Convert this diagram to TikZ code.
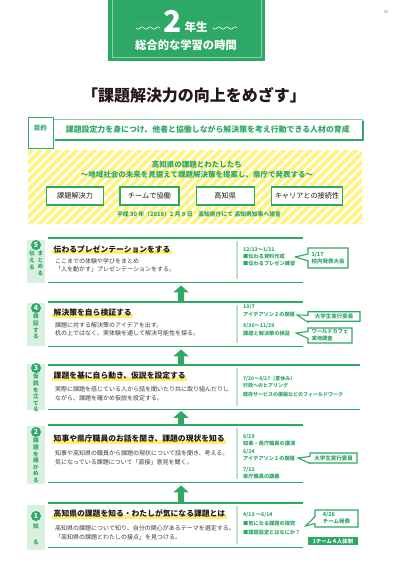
\documentclass[tikz,border=0pt]{standalone}
\usepackage{fontspec}
\setmainfont{Noto Sans CJK JP}
\usetikzlibrary{positioning,arrows.meta,shapes.callouts}

\definecolor{kgreen}{HTML}{2EA865}
\definecolor{kpale}{HTML}{D9EFDF}
\definecolor{kline}{HTML}{BDE2C8}
\definecolor{kyellow}{HTML}{FFF27E}
\definecolor{kmark}{HTML}{FFEF6B}
\definecolor{kdark}{HTML}{231815}
\definecolor{kbody}{HTML}{3E3A39}

\begin{document}
\begin{tikzpicture}[
    x=1pt, y=-1pt,
    every node/.style={inner sep=0pt},
    stage/.style={anchor=north west, minimum width=255pt, minimum height=44pt},
    tagbox/.style={fill=kpale, minimum width=18pt, anchor=north west},
    numdot/.style={circle, fill=kgreen, text=white, minimum size=10pt, font=\bfseries\fontsize{7}{7}\selectfont},
    tagtext/.style={text=kgreen, anchor=north, align=center, font=\bfseries\fontsize{5.6}{6.6}\selectfont},
    head/.style={anchor=west, inner xsep=1.5pt, inner ysep=1.5pt, text=kdark,
      font=\bfseries\fontsize{7.8}{9}\selectfont,
      path picture={\fill[kmark] ([yshift=-0.5pt]path picture bounding box.west) rectangle (path picture bounding box.south east);}},
    body/.style={anchor=west, align=left, text=kbody, font=\fontsize{6}{8.5}\selectfont},
    sched/.style={anchor=west, align=left, text=kgreen, font=\bfseries\fontsize{5.2}{7}\selectfont},
    callbox/.style={rectangle callout, draw=kgreen, line width=1.1pt, fill=white, callout pointer width=7pt,
      text=kgreen, align=left, font=\bfseries\fontsize{5.5}{7}\selectfont},
    kwbox/.style={draw=kgreen, line width=1.3pt, fill=white, minimum height=18pt, text=kdark,
      font=\fontsize{7.2}{9}\selectfont},
    uparr/.style={kgreen, line width=6pt, -{Triangle[width=15pt,length=7pt]}, shorten <=0pt, shorten >=3pt},
    frame/.style={kgreen, line width=1.2pt},
    divider/.style={kline, line width=1.2pt}
  ]
    \useasboundingbox (0,0) rectangle (400,566);

    % header
    \fill[kgreen] (108,0) rectangle (265,61);
    \draw[kgreen!55!white, line width=0.6pt] (112,0) -- (112,57) -- (261,57) -- (261,0);
    \node[text=white, font=\bfseries\fontsize{30}{30}\selectfont] (grade) at (173,21) {2};
    \node[text=white, font=\bfseries\fontsize{11.5}{12}\selectfont, right=2pt of grade.south east, anchor=south west] (nensei) {年生};
    \node[text=white, font=\bfseries\fontsize{11.3}{12}\selectfont] (subject) at (186,45) {総合的な学習の時間};
    \foreach \wx in {136,213}{
      \draw[white, line width=0.6pt] plot[smooth, domain=0:24, samples=25] ({\wx+\x}, {28+1.1*sin(\x*45)});
      \foreach \d in {2,6,...,22} \fill[white] (\wx+\d,24) circle (0.45pt);
    }
    \node[text=gray, font=\fontsize{4}{4}\selectfont] (page) at (386,12) {35};

    % title and purpose
    \node[text=kdark, font=\bfseries\fontsize{16}{16}\selectfont] (title) at (194,95) {「課題解決力の向上をめざす」};
    \node[draw=kgreen!60!white, line width=0.6pt, fill=white, minimum width=309pt, minimum height=20pt, anchor=west,
      text=kgreen, font=\bfseries\fontsize{7.9}{9}\selectfont] (goal) at (53,129.5) {課題設定力を身につけ、他者と協働しながら解決策を考え行動できる人材の育成};
    \draw[kgreen, line width=2pt] ([xshift=2pt]goal.south west) -- (goal.south east) -- ([yshift=-2pt]goal.north east);
    \node[draw=kgreen, line width=1.3pt, fill=white, minimum width=25pt, minimum height=31pt, anchor=north west] (aim) at (28,117) {};
    \node[text=kgreen, font=\bfseries\fontsize{6.5}{7}\selectfont] (aimtext) at (40.5,128) {目的};

    % theme area
    \begin{scope}
      \clip (28,150) rectangle (362,223);
      \foreach \i in {-80,-71,...,370} \draw[kyellow, line width=3.8pt] (\i,226) -- ++(80,-80);
    \end{scope}
    \node[text=kgreen, align=center, font=\bfseries\fontsize{7.5}{10}\selectfont] (theme) at (197,170)
      {高知県の課題とわたしたち\\〜地域社会の未来を見据えて課題解決策を提案し、県庁で発表する〜};
    \node[kwbox, minimum width=57pt, anchor=west] (kw1) at (46,196) {課題解決力};
    \node[kwbox, minimum width=59pt, right=15pt of kw1] (kw2) {チームで協働};
    \node[kwbox, minimum width=58pt, right=16pt of kw2] (kw3) {高知県};
    \node[kwbox, minimum width=71pt, right=16pt of kw3] (kw4) {キャリアとの接続性};
    \node[text=kgreen, font=\bfseries\fontsize{5.8}{7}\selectfont] (teigen) at (199,214)
      {平成 30 年（2018）2 月 9 日　高知県庁にて 高知県知事へ提言};

    % stage frames
    \node[stage] (s5) at (48,238) {};
    \node[stage] (s4) at (48,302) {};
    \node[stage, minimum width=312pt] (s3) at (48,365) {};
    \node[stage, minimum height=57pt] (s2) at (48,425) {};
    \node[stage] (s1) at (48,503) {};
    \coordinate (dv) at (237,0);
    \coordinate (ax) at (181,0);
    \foreach \s in {s5,s4,s3,s2,s1}{
      \draw[frame] (\s.north west) -- (\s.north east) (\s.south west) -- (\s.south east);
    }
    \foreach \s in {s5,s4,s3,s2,s1}{
      \draw[divider] ([yshift=-3pt]\s.north -| dv) -- ([yshift=3pt]\s.south -| dv);
    }
    \draw[uparr] (s4.north -| ax) -- (s5.south -| ax);
    \draw[uparr] (s3.north -| ax) -- (s4.south -| ax);
    \draw[uparr, shorten >=1.5pt] (s2.north -| ax) -- (s3.south -| ax);
    \draw[uparr] (s1.north -| ax) -- (s2.south -| ax);

    % stage tags
    \node[tagbox, minimum height=43pt] (t5) at (27,240) {};
    \node[tagbox, minimum height=43pt] (t4) at (27,303) {};
    \node[tagbox, minimum height=46pt] (t3) at (27,364) {};
    \node[tagbox, minimum height=58pt] (t2) at (27,426) {};
    \node[tagbox, minimum height=45pt] (t1) at (27,505) {};
    \node[numdot] (n5) at (36,245) {5};
    \node[numdot] (n4) at (36,308) {4};
    \node[numdot] (n3) at (36,368) {3};
    \node[numdot] (n2) at (36,432) {2};
    \node[numdot] (n1) at (36,516) {1};
    \node[tagtext] (v5a) at (40.5,251) {ま\\と\\め\\る};
    \node[tagtext] (v5b) at (32,251) {伝\\え\\る};
    \node[tagtext] (v4) at (36,314) {検\\証\\す\\る};
    \node[tagtext] (v3) at (36,374) {仮\\説\\を\\立\\て\\る};
    \node[tagtext] (v2) at (36,438) {課\\題\\を\\確\\か\\め\\る};
    \node[tagtext] (v1) at (36,524) {知\\[9pt]る};

    % stage 5
    \node[head] (h5) at (52,249) {伝わるプレゼンテーションをする};
    \node[body] (b5) at (55,265) {ここまでの体験や学びをまとめ\\「人を動かす」プレゼンテーションをする。};
    \node[sched] (d5) at (243,257) {12/13〜1/31\\■伝わる資料作成\\■伝わるプレゼン練習};
    \node[callbox, minimum width=40pt, minimum height=20pt, callout absolute pointer={(d5.east)}] (c5) at (328,258) {1/17\\校内発表大会};

    % stage 4
    \node[head] (h4) at (52,313) {解決策を自ら検証する};
    \node[body] (b4) at (55,329) {課題に対する解決策のアイデアを出す。\\机の上ではなく、実体験を通して解決可能性を探る。};
    \node[sched, font=\bfseries\fontsize{5.2}{8.5}\selectfont] (d4a) at (243,310.5) {10/7\\アイデアソン２の開催};
    \node[sched, font=\bfseries\fontsize{5.2}{8}\selectfont] (d4b) at (243,330) {8/30〜11/29\\課題と解決策の検証};
    \node[callbox, minimum width=52pt, minimum height=9.5pt, callout absolute pointer={([xshift=2pt,yshift=-4.5pt]d4a.east)}] (c4a) at (334,316.5) {大学生実行委員};
    \node[callbox, minimum width=44pt, minimum height=15pt, font=\bfseries\fontsize{5.2}{7}\selectfont,
      callout absolute pointer={([xshift=6pt,yshift=-3pt]d4b.east)}] (c4b) at (330,335.5) {ワールドカフェ\\実地調査};

    % stage 3
    \node[head] (h3) at (52,376) {課題を基に自ら動き、仮説を設定する};
    \node[body] (b3) at (55,393.5) {実際に課題を感じている人から話を聞いたり共に取り組んだりし\\ながら、課題を確かめ仮説を設定する。};
    \node[sched, font=\bfseries\fontsize{5}{6.5}\selectfont] (d3) at (243,386.5) {7/20〜8/27（夏休み）\\行政へのヒアリング\\[2.5pt]既存サービスの模擬などのフィールドワーク};

    % stage 2
    \node[head] (h2) at (52,439) {知事や県庁職員のお話を聞き、課題の現状を知る};
    \node[body] (b2) at (55,457.5) {知事や高知県の職員から課題の現状について話を聞き、考える。\\気になっている課題について「直接」意見を聞く。};
    \node[sched] (d2a) at (243,440.5) {6/19\\知事・県庁職員の講演};
    \node[sched] (d2b) at (243,455.5) {6/24\\アイデアソン１の開催};
    \node[sched] (d2c) at (243,473.5) {7/12\\県庁職員の講義};
    \node[callbox, minimum width=47pt, minimum height=10pt, callout absolute pointer={([xshift=3pt,yshift=-2.5pt]d2b.east)}] (c2) at (333.5,458) {大学生実行委員};

    % stage 1
    \node[head] (h1) at (52,514) {高知県の課題を知る・わたしが気になる課題とは};
    \node[body] (b1) at (55,532.5) {高知県の課題について知り、自分の関心があるテーマを選定する。\\「高知県の課題とわたしの接点」を見つける。};
    \node[sched, font=\bfseries\fontsize{5.2}{9}\selectfont] (d1) at (243,524) {4/13 〜6/14\\■気になる課題の探究\\■課題設定とはなにか？};
    \node[callbox, minimum width=43pt, minimum height=17pt, callout absolute pointer={([xshift=5pt,yshift=-2pt]d1.east)}] (c1) at (336.5,518.5) {4/26\\チーム発表};
    \node[fill=kgreen, text=white, minimum width=50pt, minimum height=8.5pt, font=\bfseries\fontsize{5.3}{6}\selectfont] (team) at (333,541) {1チーム４人体制};
  \end{tikzpicture}
\end{document}
